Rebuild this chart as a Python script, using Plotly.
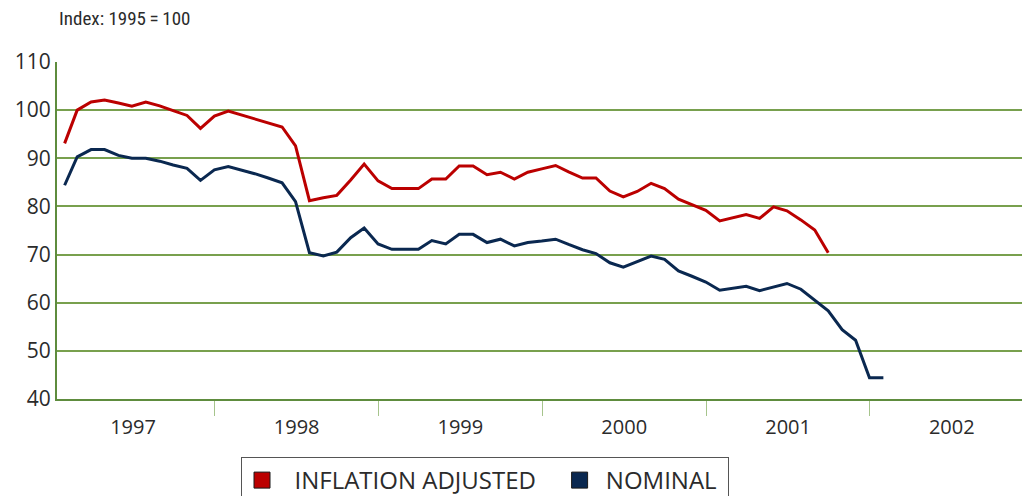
import pandas as pd
import plotly.graph_objects as go

# Monthly index values (1995 = 100), starting January 1997
start_month = "1997-01"
inflation_adjusted = [
    93.1, 100.0, 101.7, 102.1, 101.5, 100.8, 101.7, 100.9, 99.9, 98.9, 96.2, 98.75,   # 1997
    99.8, 99.0, 98.1, 97.3, 96.5, 92.6, 81.2, 81.8, 82.3, 85.5, 88.8, 85.3,          # 1998
    83.7, 83.7, 83.7, 85.7, 85.7, 88.4, 88.4, 86.6, 87.1, 85.7, 87.1, 87.8,          # 1999
    88.5, 87.2, 85.9, 85.9, 83.2, 82.0, 83.1, 84.8, 83.7, 81.5, 80.3, 79.2,          # 2000
    77.0, 77.6, 78.3, 77.5, 79.9, 79.1, 77.2, 75.1, 70.4,                            # 2001
]
nominal = [
    84.4, 90.3, 91.8, 91.8, 90.6, 90.0, 90.0, 89.4, 88.6, 87.9, 85.4, 87.6,          # 1997
    88.3, 87.6, 86.8, 85.9, 84.9, 81.0, 70.4, 69.7, 70.5, 73.5, 75.5, 72.2,          # 1998
    71.1, 71.1, 71.1, 72.9, 72.2, 74.2, 74.2, 72.5, 73.2, 71.8, 72.5, 72.8,          # 1999
    73.2, 72.1, 71.0, 70.2, 68.3, 67.4, 68.6, 69.7, 69.0, 66.6, 65.5, 64.3,          # 2000
    62.6, 63.0, 63.4, 62.5, 63.2, 64.0, 62.8, 60.5, 58.3, 54.4, 52.2, 44.4,          # 2001
    44.4,                                                                            # 2002
]
series_names = ["INFLATION ADJUSTED", "NOMINAL"]
series_colors = ["#bb0000", "#0a2850"]
y_ticks = [40, 50, 60, 70, 80, 90, 100, 110]
x_start, x_end = "1997-01-14", "2002-12-24"
y_title = "Index: 1995\u2009=\u2009100"

dates_ia = pd.date_range(start_month, periods=len(inflation_adjusted), freq="ME")
dates_nom = pd.date_range(start_month, periods=len(nominal), freq="ME")

GRID = "#78a04e"
AXIS = "#5e8c3e"
TICK = "#a6c48c"
TEXT = "#2b2b2b"
NBSP = "\u00a0"

# page body has an 8px margin: figure drawn at (8, 8)
W, H = 1022, 488

fig = go.Figure()
legend_pads = [(NBSP * 2, NBSP * 3), (NBSP, NBSP)]
for name, dates, vals, col, (lead, trail) in [
    (series_names[0], dates_ia, inflation_adjusted, series_colors[0], legend_pads[0]),
    (series_names[1], dates_nom, nominal, series_colors[1], legend_pads[1]),
]:
    fig.add_trace(go.Scatter(
        x=dates, y=vals, mode="lines", name=name, showlegend=False,
        line=dict(color=col, width=3), hoverinfo="x+y",
    ))
    # legend swatch (square)
    fig.add_trace(go.Scatter(
        x=[None], y=[None], mode="markers", name=lead + name + trail, showlegend=True,
        marker=dict(symbol="square", size=21, color=col,
                    line=dict(color="#1a1a1a", width=1)),
    ))

fig.update_layout(
    width=W, height=H,
    margin=dict(l=49, r=0, t=54, b=97, autoexpand=False),
    paper_bgcolor="white", plot_bgcolor="white",
    font=dict(family="Open Sans, DejaVu Sans, sans-serif", color=TEXT),
    showlegend=True,
    legend=dict(
        orientation="h", xref="container", yref="container",
        x=(241 - 8) / W, xanchor="left", y=1 - (457 - 8) / H, yanchor="top",
        bordercolor="#555555", borderwidth=1,
        font=dict(size=24, color=TEXT, family="Open Sans, sans-serif"),
        itemsizing="trace", itemwidth=30,
    ),
    xaxis=dict(
        type="date", range=[x_start, x_end], automargin=False,
        tick0="1997-01-01", dtick="M12", tickformat="%Y",
        ticklabelmode="period", ticklabelstandoff=-6,
        ticks="outside", ticklen=15, tickcolor=TICK, tickwidth=1,
        showline=True, linecolor=AXIS, linewidth=2,
        showgrid=False, zeroline=False,
        tickfont=dict(size=20, color=TEXT),
    ),
    yaxis=dict(
        range=[40, 110], tickvals=y_ticks, automargin=False,
        showgrid=True, gridcolor=GRID, gridwidth=1.5,
        showline=True, linecolor=AXIS, linewidth=2,
        zeroline=False, ticks="",
        tickfont=dict(size=21, color=TEXT),
    ),
    annotations=[dict(
        text=y_title, xref="paper", yref="paper", x=0, y=1.13,
        xanchor="left", yanchor="middle", showarrow=False,
        font=dict(size=19, color=TEXT, family="Liberation Sans Narrow, Roboto Condensed, sans-serif"),
    )],
)

fig.write_html("out.html")
